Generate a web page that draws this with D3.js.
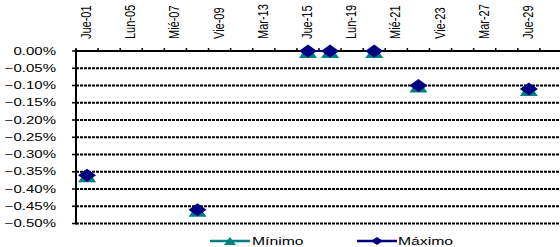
<!DOCTYPE html>
<html>
<head>
<meta charset="utf-8">
<script src="https://cdn.jsdelivr.net/npm/d3@7"></script>
<style>
  body { margin: 0; background: #fff; }
  text { font-family: "Liberation Sans", Arial, sans-serif; fill: #000; }
</style>
</head>
<body>
<div id="chart"></div>
<script>
(function () {
  // business days of the month (only every other one is labelled)
  var days = ["Jue-01", "Vie-02", "Lun-05", "Mar-06", "Mié-07", "Jue-08", "Vie-09",
              "Lun-12", "Mar-13", "Mié-14", "Jue-15", "Vie-16", "Lun-19", "Mar-20",
              "Mié-21", "Jue-22", "Vie-23", "Lun-26", "Mar-27", "Mié-28", "Jue-29", "Vie-30"];

  // values in percent, null where there is no point
  var minimo = [-0.36, null, null, null, null, -0.46, null, null, null, null, 0, 0,
                null, 0, null, -0.10, null, null, null, null, -0.11, null];
  var maximo = [-0.36, null, null, null, null, -0.46, null, null, null, null, 0, 0,
                null, 0, null, -0.10, null, null, null, null, -0.11, null];

  var yTicks = [0, -0.05, -0.10, -0.15, -0.20, -0.25, -0.30, -0.35, -0.40, -0.45, -0.50];

  var width = 560, height = 247;
  var sx = 1.5; // text is drawn wide, as in the original

  var svg = d3.select("#chart").append("svg")
      .attr("width", width)
      .attr("height", height);

  var x = d3.scaleBand().domain(days).range([76, 562]);
  var y = d3.scaleLinear().domain([-0.5, 0]).range([223.5, 51]);

  // dashed gridlines
  svg.selectAll(".grid")
      .data(yTicks.filter(function(d) { return d !== 0; }))
      .enter().append("line")
      .attr("x1", 76).attr("x2", 560)
      .attr("y1", function(d) { return y(d); })
      .attr("y2", function(d) { return y(d); })
      .attr("stroke", "#000")
      .attr("stroke-width", 2)
      .attr("stroke-dasharray", "3,1");

  // y axis
  svg.append("line")
      .attr("x1", 76).attr("x2", 76)
      .attr("y1", 49).attr("y2", 224.5)
      .attr("stroke", "#000").attr("stroke-width", 2);

  svg.selectAll(".ytick")
      .data(yTicks)
      .enter().append("line")
      .attr("x1", 72).attr("x2", 76)
      .attr("y1", function(d) { return y(d); })
      .attr("y2", function(d) { return y(d); })
      .attr("stroke", "#000").attr("stroke-width", 1.5);

  var fmt = d3.format(".2f");
  svg.selectAll(".ylab")
      .data(yTicks)
      .enter().append("text")
      .attr("transform", function(d) {
        return "translate(56," + (y(d) + 3.6) + ") scale(" + sx + ",1)";
      })
      .attr("text-anchor", "end")
      .style("font-size", "10px")
      .text(function(d) { return fmt(d) + "%"; });

  // x axis at the top (value 0)
  svg.append("line")
      .attr("x1", 76).attr("x2", 560)
      .attr("y1", y(0)).attr("y2", y(0))
      .attr("stroke", "#000").attr("stroke-width", 2);

  svg.selectAll(".xtick")
      .data(days)
      .enter().append("line")
      .attr("x1", function(d) { return x(d); })
      .attr("x2", function(d) { return x(d); })
      .attr("y1", y(0) - 3).attr("y2", y(0))
      .attr("stroke", "#000").attr("stroke-width", 1.5);

  svg.selectAll(".xlab")
      .data(days.filter(function(d, i) { return i % 2 === 0; }))
      .enter().append("text")
      .attr("transform", function(d) {
        return "translate(" + (x(d) + x.bandwidth() / 2 + 4) + ",39) scale(1.25,1) rotate(-90)";
      })
      .attr("text-anchor", "start")
      .style("font-size", "11px")
      .text(function(d) { return d; });

  // series
  function pts(arr) {
    return days.map(function(d, i) { return {day: d, v: arr[i]}; })
               .filter(function(p) { return p.v !== null; });
  }

  var line = d3.line()
      .defined(function(d) { return d.v !== null; })
      .x(function(d) { return x(d.day) + x.bandwidth() / 2; })
      .y(function(d) { return y(d.v); });

  var minData = days.map(function(d, i) { return {day: d, v: minimo[i]}; });
  var maxData = days.map(function(d, i) { return {day: d, v: maximo[i]}; });

  svg.append("path").datum(minData)
      .attr("d", line).attr("fill", "none")
      .attr("stroke", "#008080").attr("stroke-width", 2);
  svg.append("path").datum(maxData)
      .attr("d", line).attr("fill", "none")
      .attr("stroke", "#000080").attr("stroke-width", 2);

  var tri = "M0,-6L9,7L-9,7Z";
  var dia = "M-9,0L0,-6.5L9,0L0,6.5Z";

  svg.selectAll(".min")
      .data(pts(minimo))
      .enter().append("path")
      .attr("d", tri)
      .attr("transform", function(d) {
        return "translate(" + (x(d.day) + x.bandwidth() / 2) + "," + y(d.v) + ")";
      })
      .attr("fill", "#008080");

  svg.selectAll(".max")
      .data(pts(maximo))
      .enter().append("path")
      .attr("d", dia)
      .attr("transform", function(d) {
        return "translate(" + (x(d.day) + x.bandwidth() / 2) + "," + y(d.v) + ")";
      })
      .attr("fill", "#000080");

  // legend
  var ly = 241;
  var leg = svg.append("g");
  leg.append("line").attr("x1", 210).attr("x2", 250).attr("y1", ly).attr("y2", ly)
      .attr("stroke", "#008080").attr("stroke-width", 2.5);
  leg.append("path").attr("d", "M0,-4L6,4L-6,4Z")
      .attr("transform", "translate(230," + ly + ")").attr("fill", "#008080");
  leg.append("text")
      .attr("transform", "translate(252," + (ly + 4) + ") scale(" + sx + ",1)")
      .style("font-size", "10.5px").text("Mínimo");

  leg.append("line").attr("x1", 357).attr("x2", 397).attr("y1", ly).attr("y2", ly)
      .attr("stroke", "#000080").attr("stroke-width", 2.5);
  leg.append("path").attr("d", "M-6,0L0,-4L6,0L0,4Z")
      .attr("transform", "translate(377," + ly + ")").attr("fill", "#000080");
  leg.append("text")
      .attr("transform", "translate(398," + (ly + 4) + ") scale(" + sx + ",1)")
      .style("font-size", "10.5px").text("Máximo");
})();
</script>
</body>
</html>
